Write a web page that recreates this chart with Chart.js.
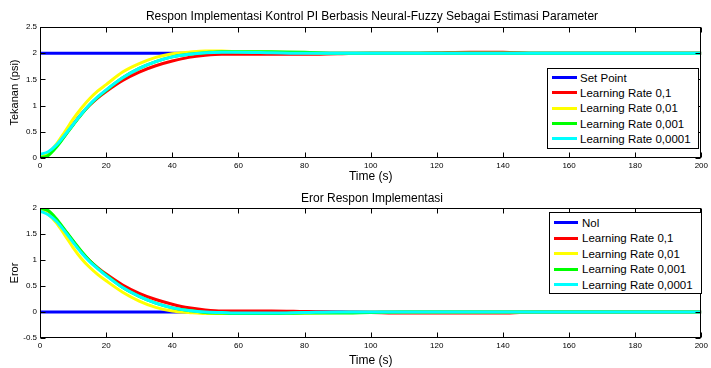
<!DOCTYPE html>
<html lang="id">
<head>
<meta charset="UTF-8">
<title>Respon Implementasi Kontrol PI Berbasis Neural-Fuzzy</title>
<style>
  body {
    margin: 0;
    width: 711px;
    height: 368px;
    background: #fff;
    font-family: "Liberation Sans", Arial, sans-serif;
    position: relative;
    overflow: hidden;
  }
  .plot { position: absolute; left: 0; width: 711px; height: 184px; }
  .title {
    position: absolute; left: 40px; width: 664px;
    text-align: center; font-size: 12px; line-height: 14px; color: #000;
  }
  .legend {
    position: absolute; border: 1px solid #000; background: #fff;
    box-sizing: border-box; padding-left: 4px;
  }
  .legend .row { display: flex; align-items: center; font-size: 11.5px; white-space: nowrap; color: #000; }
  .legend .swatch { height: 3px; }
</style>
</head>
<body>
<div class="plot" style="top:0"><canvas id="respChart"></canvas></div>
<div class="plot" style="top:184px"><canvas id="errChart"></canvas></div>
<div class="title" style="top:9px">Respon Implementasi Kontrol PI Berbasis Neural-Fuzzy Sebagai Estimasi Parameter</div>
<div class="title" style="top:191px">Eror Respon Implementasi</div>
<div class="legend" id="legTop" style="left:547px; top:68px; width:152px; height:81px; padding-top:1px"></div>
<div class="legend" id="legBot" style="left:549px; top:212px; width:153px; height:82px; padding-top:2px"></div>

<script src="https://cdn.jsdelivr.net/npm/chart.js"></script>
<script>
// time axis (s)
const time = [0, 2.5, 5, 7.5, 10, 12.5, 15, 17.5, 20, 25, 30, 35, 40, 45, 50, 55, 60, 70, 80, 90,
              100, 110, 120, 130, 140, 150, 160, 170, 180, 190, 200];

// top plot: pressure response (psi)
const setPoint = time.map(() => 2);
const respLr1    = [0.03, 0.09, 0.23, 0.43, 0.64, 0.84, 1.01, 1.15, 1.27, 1.48, 1.64, 1.76, 1.85, 1.92, 1.96, 1.98, 1.98, 1.98, 1.98, 1.99,
                    2.0, 2.0, 2.01, 2.02, 2.02, 2.0, 2.0, 2.0, 2.0, 2.0, 2.0];
const respLr01   = [0.03, 0.1, 0.27, 0.5, 0.74, 0.95, 1.13, 1.28, 1.4, 1.64, 1.8, 1.92, 1.99, 2.02, 2.04, 2.04, 2.03, 2.02, 2.01, 2.0,
                    2.0, 2.0, 2.0, 2.0, 2.0, 2.0, 2.0, 2.0, 2.0, 2.0, 2.0];
const respLr001  = [0.0, 0.05, 0.21, 0.42, 0.63, 0.83, 1.01, 1.16, 1.29, 1.53, 1.71, 1.84, 1.93, 1.98, 2.01, 2.03, 2.03, 2.03, 2.02, 2.0,
                    2.0, 2.0, 2.0, 2.0, 2.0, 2.0, 2.0, 2.0, 2.0, 2.0, 2.0];
const respLr0001 = [0.07, 0.12, 0.25, 0.44, 0.64, 0.84, 1.02, 1.17, 1.3, 1.53, 1.71, 1.84, 1.93, 1.98, 2.01, 2.02, 2.02, 2.01, 2.0, 2.0,
                    2.0, 2.0, 2.0, 2.0, 2.0, 2.0, 2.0, 2.0, 2.0, 2.0, 2.0];

// bottom plot: error
const nol = time.map(() => 0);
const errLr1    = [1.97, 1.9, 1.76, 1.57, 1.36, 1.16, 0.99, 0.85, 0.73, 0.52, 0.36, 0.24, 0.15, 0.08, 0.04, 0.02, 0.02, 0.02, 0.01, 0.0,
                   -0.01, -0.02, -0.02, -0.02, -0.02, 0, 0, 0, 0, 0, 0];
const errLr01   = [1.97, 1.88, 1.71, 1.48, 1.24, 1.03, 0.86, 0.72, 0.6, 0.38, 0.21, 0.09, 0.02, -0.01, -0.03, -0.03, -0.03, -0.03, -0.02, -0.01,
                   0, 0, 0, 0, 0, 0, 0, 0, 0, 0, 0];
const errLr001  = [2.0, 1.95, 1.79, 1.58, 1.37, 1.17, 0.99, 0.84, 0.71, 0.47, 0.3, 0.17, 0.08, 0.03, -0.01, -0.02, -0.03, -0.03, -0.02, -0.02,
                   -0.01, 0, 0, 0, 0, 0, 0, 0, 0, 0, 0];
const errLr0001 = [1.94, 1.87, 1.74, 1.55, 1.34, 1.14, 0.97, 0.83, 0.7, 0.47, 0.3, 0.17, 0.08, 0.03, 0.0, -0.01, -0.02, -0.02, -0.01, 0,
                   0, 0, 0, 0, 0, 0, 0, 0, 0, 0, 0];

const xTicks = [0, 20, 40, 60, 80, 100, 120, 140, 160, 180, 200];
const topLabels = ['Set Point', 'Learning Rate 0,1', 'Learning Rate 0,01', 'Learning Rate 0,001', 'Learning Rate 0,0001'];
const botLabels = ['Nol', 'Learning Rate 0,1', 'Learning Rate 0,01', 'Learning Rate 0,001', 'Learning Rate 0,0001'];
const colors = ['#0000ff', '#ff0000', '#ffff00', '#00ff00', '#00ffff'];

const FONT = '"Liberation Sans", Arial, sans-serif';

// MATLAB-like box with inward tick marks
const matlabBox = {
    id: 'matlabBox',
    afterDraw(chart) {
        const { ctx, chartArea: a, scales } = chart;
        const L = Math.round(a.left) + 0.5, R = Math.round(a.right) - 0.5;
        const T = Math.round(a.top) + 0.5, B = Math.round(a.bottom) - 0.5;
        ctx.save();
        ctx.strokeStyle = '#000';
        ctx.lineWidth = 1;
        ctx.beginPath();
        scales.x.ticks.forEach(t => {
            const px = Math.round(scales.x.getPixelForValue(t.value)) + 0.5;
            ctx.moveTo(px, B); ctx.lineTo(px, B - 5);
            ctx.moveTo(px, T); ctx.lineTo(px, T + 5);
        });
        scales.y.ticks.forEach(t => {
            const py = Math.round(scales.y.getPixelForValue(t.value)) + 0.5;
            ctx.moveTo(L, py); ctx.lineTo(L + 5, py);
            ctx.moveTo(R, py); ctx.lineTo(R - 5, py);
        });
        ctx.stroke();
        ctx.strokeRect(L, T, R - L, B - T);
        ctx.restore();
    }
};

function makeDatasets(labels, series) {
    // cyan drawn on top, blue underneath
    return series.map((vals, i) => ({
        label: labels[i],
        data: time.map((t, k) => ({ x: t, y: vals[k] })),
        borderColor: colors[i],
        backgroundColor: colors[i],
        borderWidth: 3,
        pointRadius: 0,
        cubicInterpolationMode: 'monotone',
        order: series.length - i
    }));
}

function makeChart(id, labels, series, yMin, yMax, yTitle, padTop, xHeight) {
    return new Chart(document.getElementById(id), {
        type: 'line',
        data: { datasets: makeDatasets(labels, series) },
        options: {
            responsive: true,
            maintainAspectRatio: false,
            animation: false,
            layout: { padding: { top: padTop, right: 7, left: 0, bottom: 0 } },
            plugins: { legend: { display: false }, tooltip: { enabled: false } },
            scales: {
                x: {
                    type: 'linear', min: 0, max: 200,
                    afterBuildTicks: s => { s.ticks = xTicks.map(v => ({ value: v })); },
                    ticks: { color: '#000', font: { family: FONT, size: 8 }, padding: 3, maxRotation: 0,
                             callback: v => String(v) },
                    grid: { display: false, drawTicks: false },
                    border: { display: false },
                    title: { display: true, text: 'Time (s)', color: '#000', font: { family: FONT, size: 12 }, padding: 0 },
                    afterFit: s => { s.height = xHeight; }
                },
                y: {
                    min: yMin, max: yMax,
                    ticks: { stepSize: 0.5, color: '#000', font: { family: FONT, size: 8 }, padding: 3,
                             callback: v => String(Math.round(v * 10) / 10) },
                    grid: { display: false, drawTicks: false },
                    border: { display: false },
                    title: { display: true, text: yTitle, color: '#000', font: { family: FONT, size: 11 }, padding: { top: 8, bottom: 0 } },
                    afterFit: s => { s.width = 40; }
                }
            }
        },
        plugins: [matlabBox]
    });
}

makeChart('respChart', topLabels, [setPoint, respLr1, respLr01, respLr001, respLr0001], 0, 2.5, 'Tekanan (psi)', 27, 26);
makeChart('errChart', botLabels, [nol, errLr1, errLr01, errLr001, errLr0001], -0.5, 2, 'Eror', 24, 30);

function buildLegend(elId, labels, rowH, swW, gap) {
    const el = document.getElementById(elId);
    labels.forEach((lab, i) => {
        const row = document.createElement('div');
        row.className = 'row';
        row.style.height = rowH + 'px';
        const sw = document.createElement('span');
        sw.className = 'swatch';
        sw.style.width = swW + 'px';
        sw.style.marginRight = gap + 'px';
        sw.style.background = colors[i];
        const tx = document.createElement('span');
        tx.textContent = lab;
        row.appendChild(sw);
        row.appendChild(tx);
        el.appendChild(row);
    });
}
buildLegend('legTop', topLabels, 15.3, 25, 3);
buildLegend('legBot', botLabels, 15.5, 24, 4);
</script>
</body>
</html>
